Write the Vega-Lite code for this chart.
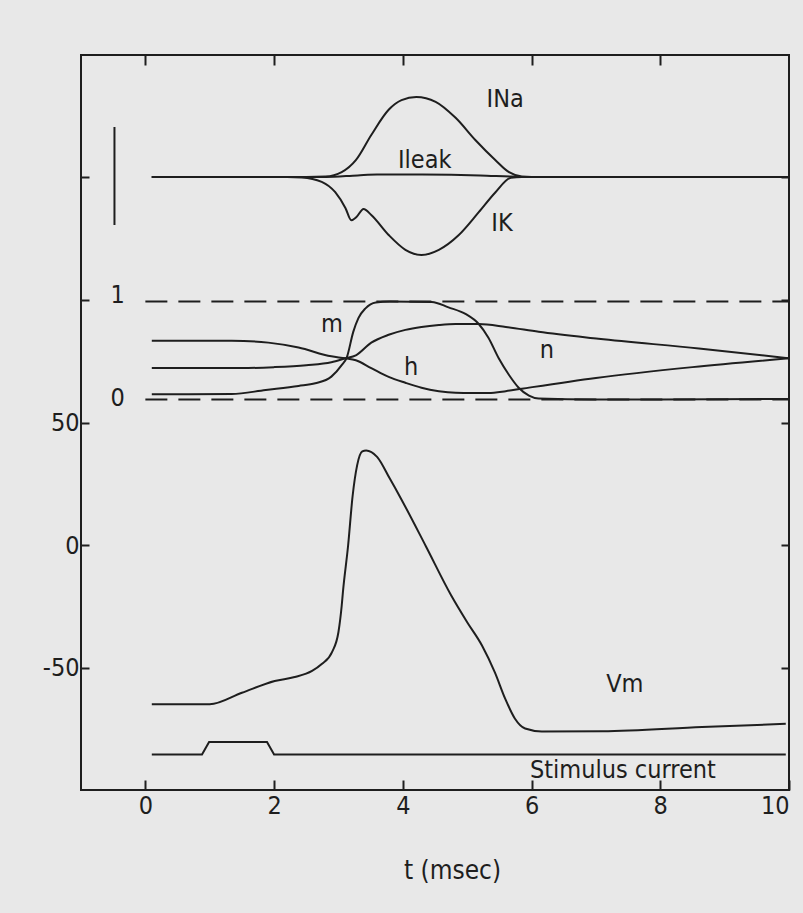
{
  "$schema": "https://vega.github.io/schema/vega-lite/v6.json",
  "width": 708,
  "height": 735,
  "autosize": {"type": "none"},
  "padding": {"left": 81, "top": 55, "right": 14, "bottom": 123},
  "background": "#e8e8e8",
  "config": {
    "view": {"stroke": "#1e1e1e", "strokeWidth": 2},
    "axis": {
      "grid": false, "domain": false, "tickColor": "#1e1e1e", "tickWidth": 2,
      "labelColor": "#1e1e1e", "labelFont": "Liberation Sans Narrow, DejaVu Sans Condensed, sans-serif", "labelFontSize": 25,
      "titleFont": "Liberation Sans Narrow, DejaVu Sans Condensed, sans-serif", "titleFontSize": 26, "titleFontWeight": "normal", "titleColor": "#1e1e1e"
    },
    "text": {"font": "Liberation Sans Narrow, DejaVu Sans Condensed, sans-serif"}
  },
  "datasets": {
    "vm": [
      {"t": 0.1, "V": -65}, {"t": 1.0, "V": -65}, {"t": 1.5, "V": -60.3}, {"t": 2.01, "V": -55.5},
      {"t": 2.32, "V": -53.9}, {"t": 2.59, "V": -51.4}, {"t": 2.74, "V": -48.6}, {"t": 2.9, "V": -43.7},
      {"t": 3.0, "V": -35.5}, {"t": 3.05, "V": -24.9}, {"t": 3.07, "V": -19}, {"t": 3.15, "V": -0.2},
      {"t": 3.22, "V": 20}, {"t": 3.29, "V": 32.5}, {"t": 3.37, "V": 38.2}, {"t": 3.43, "V": 38.6},
      {"t": 3.6, "V": 36}, {"t": 3.8, "V": 27}, {"t": 3.97, "V": 19}, {"t": 4.36, "V": -0.6},
      {"t": 4.75, "V": -20.5}, {"t": 5.0, "V": -31.5}, {"t": 5.23, "V": -41}, {"t": 5.43, "V": -52},
      {"t": 5.59, "V": -62.7}, {"t": 5.74, "V": -70.8}, {"t": 5.9, "V": -74.9}, {"t": 6.16, "V": -76.1},
      {"t": 7.1, "V": -76}, {"t": 8.65, "V": -74.3}, {"t": 9.95, "V": -73}
    ],
    "stim": [
      {"t": 0.1, "S": 0}, {"t": 0.88, "S": 0}, {"t": 0.99, "S": 1}, {"t": 1.89, "S": 1}, {"t": 2.0, "S": 0}, {"t": 9.95, "S": 0}
    ],
    "gates": [
      {"g": "m", "t": 0.1, "v": 0.053}, {"g": "m", "t": 1.34, "v": 0.055}, {"g": "m", "t": 1.87, "v": 0.097},
      {"g": "m", "t": 2.38, "v": 0.138}, {"g": "m", "t": 2.64, "v": 0.165}, {"g": "m", "t": 2.89, "v": 0.233},
      {"g": "m", "t": 3.05, "v": 0.35}, {"g": "m", "t": 3.13, "v": 0.43}, {"g": "m", "t": 3.23, "v": 0.69},
      {"g": "m", "t": 3.31, "v": 0.83}, {"g": "m", "t": 3.42, "v": 0.93}, {"g": "m", "t": 3.58, "v": 0.99},
      {"g": "m", "t": 3.8, "v": 1.0}, {"g": "m", "t": 4.45, "v": 0.995}, {"g": "m", "t": 4.71, "v": 0.94},
      {"g": "m", "t": 4.98, "v": 0.87}, {"g": "m", "t": 5.18, "v": 0.77}, {"g": "m", "t": 5.33, "v": 0.63},
      {"g": "m", "t": 5.49, "v": 0.42}, {"g": "m", "t": 5.65, "v": 0.25}, {"g": "m", "t": 5.8, "v": 0.12},
      {"g": "m", "t": 5.96, "v": 0.04}, {"g": "m", "t": 6.11, "v": 0.01}, {"g": "m", "t": 7.0, "v": 0.0},
      {"g": "m", "t": 10, "v": 0.005},
      {"g": "h", "t": 0.1, "v": 0.6}, {"g": "h", "t": 1.34, "v": 0.6}, {"g": "h", "t": 1.91, "v": 0.58},
      {"g": "h", "t": 2.38, "v": 0.53}, {"g": "h", "t": 2.89, "v": 0.44}, {"g": "h", "t": 3.11, "v": 0.42},
      {"g": "h", "t": 3.27, "v": 0.4}, {"g": "h", "t": 3.51, "v": 0.32}, {"g": "h", "t": 3.78, "v": 0.23},
      {"g": "h", "t": 4.04, "v": 0.17}, {"g": "h", "t": 4.29, "v": 0.12}, {"g": "h", "t": 4.56, "v": 0.085},
      {"g": "h", "t": 4.82, "v": 0.068}, {"g": "h", "t": 5.07, "v": 0.065}, {"g": "h", "t": 5.33, "v": 0.066},
      {"g": "h", "t": 5.6, "v": 0.085}, {"g": "h", "t": 5.85, "v": 0.11}, {"g": "h", "t": 7.0, "v": 0.22},
      {"g": "h", "t": 8.5, "v": 0.33}, {"g": "h", "t": 10, "v": 0.42},
      {"g": "n", "t": 0.1, "v": 0.32}, {"g": "n", "t": 1.5, "v": 0.32}, {"g": "n", "t": 2.0, "v": 0.33},
      {"g": "n", "t": 2.5, "v": 0.35}, {"g": "n", "t": 2.89, "v": 0.38}, {"g": "n", "t": 3.11, "v": 0.42},
      {"g": "n", "t": 3.27, "v": 0.45}, {"g": "n", "t": 3.51, "v": 0.58}, {"g": "n", "t": 3.78, "v": 0.66},
      {"g": "n", "t": 4.04, "v": 0.71}, {"g": "n", "t": 4.29, "v": 0.74}, {"g": "n", "t": 4.56, "v": 0.76},
      {"g": "n", "t": 4.82, "v": 0.77}, {"g": "n", "t": 5.18, "v": 0.77}, {"g": "n", "t": 5.6, "v": 0.74},
      {"g": "n", "t": 6.11, "v": 0.69}, {"g": "n", "t": 7.04, "v": 0.62}, {"g": "n", "t": 8.6, "v": 0.52},
      {"g": "n", "t": 10, "v": 0.42}
    ],
    "levels": [
      {"t0": 0, "t1": 10, "v": 0}, {"t0": 0, "t1": 10, "v": 1}
    ],
    "currents": [
      {"c": "INa", "t": 0.1, "I": 0}, {"c": "INa", "t": 2.5, "I": 0}, {"c": "INa", "t": 2.8, "I": 0.005},
      {"c": "INa", "t": 3.05, "I": 0.06}, {"c": "INa", "t": 3.27, "I": 0.21}, {"c": "INa", "t": 3.51, "I": 0.525},
      {"c": "INa", "t": 3.78, "I": 0.84}, {"c": "INa", "t": 3.98, "I": 0.96}, {"c": "INa", "t": 4.21, "I": 1.0},
      {"c": "INa", "t": 4.51, "I": 0.94}, {"c": "INa", "t": 4.82, "I": 0.74}, {"c": "INa", "t": 5.13, "I": 0.46},
      {"c": "INa", "t": 5.44, "I": 0.21}, {"c": "INa", "t": 5.65, "I": 0.06}, {"c": "INa", "t": 5.85, "I": 0.005},
      {"c": "INa", "t": 6.0, "I": 0}, {"c": "INa", "t": 10, "I": 0},
      {"c": "IK", "t": 0.1, "I": 0}, {"c": "IK", "t": 2.2, "I": 0}, {"c": "IK", "t": 2.43, "I": -0.005},
      {"c": "IK", "t": 2.74, "I": -0.06}, {"c": "IK", "t": 2.95, "I": -0.19}, {"c": "IK", "t": 3.11, "I": -0.39},
      {"c": "IK", "t": 3.2, "I": -0.54}, {"c": "IK", "t": 3.28, "I": -0.5}, {"c": "IK", "t": 3.39, "I": -0.4},
      {"c": "IK", "t": 3.51, "I": -0.475}, {"c": "IK", "t": 3.78, "I": -0.725}, {"c": "IK", "t": 4.04, "I": -0.91},
      {"c": "IK", "t": 4.29, "I": -0.975}, {"c": "IK", "t": 4.56, "I": -0.91}, {"c": "IK", "t": 4.87, "I": -0.725},
      {"c": "IK", "t": 5.18, "I": -0.44}, {"c": "IK", "t": 5.44, "I": -0.19}, {"c": "IK", "t": 5.68, "I": -0.01},
      {"c": "IK", "t": 5.85, "I": 0}, {"c": "IK", "t": 10, "I": 0},
      {"c": "Ileak", "t": 0.1, "I": 0}, {"c": "Ileak", "t": 2.8, "I": 0}, {"c": "Ileak", "t": 3.3, "I": 0.02},
      {"c": "Ileak", "t": 3.6, "I": 0.03}, {"c": "Ileak", "t": 4.3, "I": 0.03}, {"c": "Ileak", "t": 5.2, "I": 0.02},
      {"c": "Ileak", "t": 5.7, "I": 0.005}, {"c": "Ileak", "t": 6.0, "I": 0}, {"c": "Ileak", "t": 10, "I": 0}
    ],
    "scalebar": [{"t": -0.48, "I0": -0.6, "I1": 0.625}],
    "labels": [
      {"text": "INa", "t": 5.59, "V": 182},
      {"text": "Ileak", "t": 4.34, "V": 157.1},
      {"text": "IK", "t": 5.54, "V": 131.4},
      {"text": "1", "t": -0.43, "V": 102},
      {"text": "0", "t": -0.43, "V": 60},
      {"text": "m", "t": 2.9, "V": 90.2},
      {"text": "h", "t": 4.13, "V": 72.7},
      {"text": "n", "t": 6.24, "V": 79.6},
      {"text": "Vm", "t": 7.45, "V": -56.7},
      {"text": "Stimulus current", "t": 7.42, "V": -91.8}
    ]
  },
  "layer": [
    {
      "data": {"name": "vm"},
      "mark": {"type": "line", "interpolate": "monotone", "strokeWidth": 2, "color": "#1e1e1e"},
      "encoding": {
        "x": {"field": "t", "type": "quantitative", "scale": {"domain": [-1, 10], "nice": false, "zero": false},
          "axis": {"orient": "bottom", "values": [0, 2, 4, 6, 8, 10], "tickSize": -10, "labelPadding": 13,
            "title": "t (msec)", "titleX": 371, "titleY": 80, "titleBaseline": "middle", "titleAlign": "center"}},
        "y": {"field": "V", "type": "quantitative", "scale": {"domain": [-100, 200], "nice": false, "zero": false},
          "axis": {"orient": "left", "values": [-50, 0, 50, 100, 150], "tickSize": -8, "labelPadding": 10,
            "labelExpr": "datum.value <= 50 ? '' + datum.value : ''", "title": null}}
      }
    },
    {
      "data": {"name": "labels"},
      "mark": {"type": "text", "fontSize": 25, "color": "#1e1e1e", "align": "center", "baseline": "middle"},
      "encoding": {
        "x": {"field": "t", "type": "quantitative",
          "axis": {"orient": "top", "values": [0, 2, 4, 6, 8], "tickSize": -10, "labels": false, "title": null}},
        "y": {"field": "V", "type": "quantitative", "scale": {"domain": [-100, 200], "nice": false, "zero": false},
          "axis": {"orient": "right", "values": [-50, 0, 50, 100, 150], "tickSize": -8, "labels": false, "title": null}},
        "text": {"field": "text"}
      }
    },
    {
      "data": {"name": "gates"},
      "mark": {"type": "line", "interpolate": "monotone", "strokeWidth": 2, "color": "#1e1e1e"},
      "encoding": {
        "x": {"field": "t", "type": "quantitative", "axis": null},
        "y": {"field": "v", "type": "quantitative", "scale": {"domain": [-3.985, 3.515], "nice": false, "zero": false}, "axis": null},
        "detail": {"field": "g"}
      }
    },
    {
      "data": {"name": "levels"},
      "mark": {"type": "rule", "strokeWidth": 2, "color": "#1e1e1e", "strokeDash": [22, 11]},
      "encoding": {
        "x": {"field": "t0", "type": "quantitative", "axis": null},
        "x2": {"field": "t1"},
        "y": {"field": "v", "type": "quantitative", "scale": {"domain": [-3.985, 3.515], "nice": false, "zero": false}, "axis": null}
      }
    },
    {
      "data": {"name": "currents"},
      "mark": {"type": "line", "interpolate": "monotone", "strokeWidth": 2, "color": "#1e1e1e"},
      "encoding": {
        "x": {"field": "t", "type": "quantitative", "axis": null},
        "y": {"field": "I", "type": "quantitative", "scale": {"domain": [-7.6625, 1.525], "nice": false, "zero": false}, "axis": null},
        "detail": {"field": "c"}
      }
    },
    {
      "data": {"name": "scalebar"},
      "mark": {"type": "rule", "strokeWidth": 2, "color": "#1e1e1e"},
      "encoding": {
        "x": {"field": "t", "type": "quantitative", "axis": null},
        "y": {"field": "I0", "type": "quantitative", "scale": {"domain": [-7.6625, 1.525], "nice": false, "zero": false}, "axis": null},
        "y2": {"field": "I1"}
      }
    },
    {
      "data": {"name": "stim"},
      "mark": {"type": "line", "strokeWidth": 2, "color": "#1e1e1e"},
      "encoding": {
        "x": {"field": "t", "type": "quantitative", "axis": null},
        "y": {"field": "S", "type": "quantitative", "scale": {"domain": [-2.84, 55.96], "nice": false, "zero": false}, "axis": null}
      }
    }
  ],
  "resolve": {"scale": {"y": "independent"}, "axis": {"x": "independent", "y": "independent"}}
}
